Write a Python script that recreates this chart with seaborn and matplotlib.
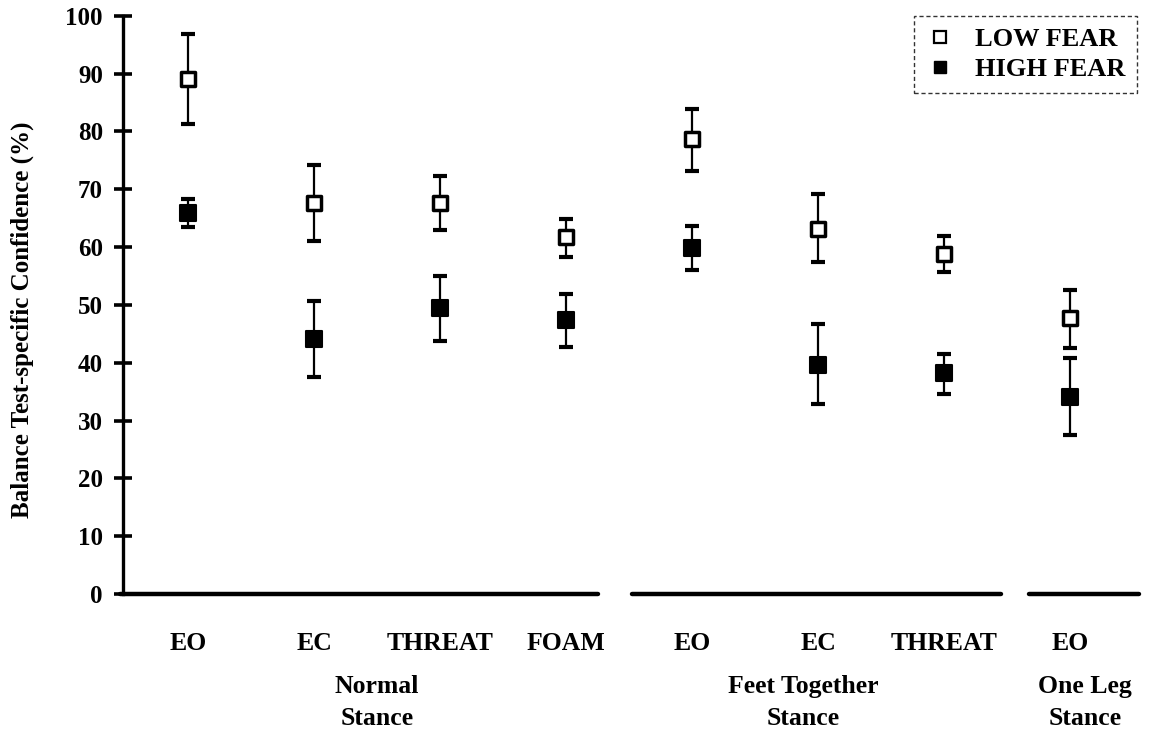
import numpy as np
import pandas as pd
import matplotlib
matplotlib.use("Agg")
import matplotlib.pyplot as plt
import seaborn as sns
from matplotlib.lines import Line2D

# Values
conditions = ["EO", "EC", "THREAT", "FOAM", "EO", "EC", "THREAT", "EO"]
stances = ["Normal\nStance", "Feet Together\nStance", "One Leg\nStance"]

low_mean = [89.1, 67.6, 67.6, 61.8, 78.7, 63.1, 58.8, 47.7]
low_upper = [96.8, 74.2, 72.3, 64.9, 83.9, 69.1, 61.9, 52.6]
low_lower = [81.3, 61.0, 63.0, 58.3, 73.2, 57.4, 55.7, 42.6]

high_mean = [65.9, 44.1, 49.5, 47.4, 59.9, 39.6, 38.2, 34.1]
high_upper = [68.3, 50.7, 55.0, 51.9, 63.7, 46.7, 41.5, 40.8]
high_lower = [63.5, 37.5, 43.8, 42.7, 56.1, 32.9, 34.6, 27.5]

yticks = [0, 10, 20, 30, 40, 50, 60, 70, 80, 90, 100]

sns.set_style("white")
plt.rcParams["font.family"] = ["Liberation Serif", "DejaVu Serif"]
plt.rcParams["font.weight"] = "bold"
plt.rcParams["text.color"] = "black"
plt.rcParams["xtick.color"] = "black"
plt.rcParams["ytick.color"] = "black"

pos = np.arange(len(conditions))
df = pd.DataFrame({
    "pos": np.concatenate([pos, pos]),
    "value": low_mean + high_mean,
    "group": ["LOW FEAR"] * len(pos) + ["HIGH FEAR"] * len(pos),
})

fig = plt.figure(figsize=(11.49, 7.35), dpi=100)
ax = fig.add_axes([123 / 1149, 1 - 594 / 735, (1142 - 123) / 1149, (594 - 15.7) / 735])

# error bars
for mean, up, lo in [(low_mean, low_upper, low_lower), (high_mean, high_upper, high_lower)]:
    mean = np.array(mean)
    err = [mean - np.array(lo), np.array(up) - mean]
    ax.errorbar(pos, mean, yerr=err, fmt="none", ecolor="black", elinewidth=1.6,
                capsize=5, capthick=3, clip_on=False, zorder=2)

sns.scatterplot(data=df[df.group == "HIGH FEAR"], x="pos", y="value", ax=ax,
                marker="s", s=130, color="black", edgecolor="black", linewidth=1.5,
                legend=False, zorder=3, clip_on=False)
sns.scatterplot(data=df[df.group == "LOW FEAR"], x="pos", y="value", ax=ax,
                marker="s", s=110, color="white", edgecolor="black", linewidth=2.5,
                legend=False, zorder=3, clip_on=False)

ax.set_xlim(-0.516, 7.57)
ax.set_ylim(0, 100)
ax.set_yticks(yticks)
ax.set_yticklabels([str(t) for t in yticks], fontsize=18, fontweight="bold")
ax.set_xticks(pos)
ax.set_xticklabels(conditions, fontsize=18.5, fontweight="bold")
ax.tick_params(axis="y", left=True, direction="inout", length=13, width=2.6, pad=8,
               colors="black")
ax.tick_params(axis="x", bottom=False, length=0, pad=27, colors="black")
ax.set_xlabel("")
ax.set_ylabel("")

for s in ["top", "right", "bottom"]:
    ax.spines[s].set_visible(False)
ax.spines["left"].set_linewidth(2.4)
ax.spines["left"].set_color("black")

# broken baseline under each stance group
segments = [(-0.54, 3.25), (3.52, 6.45), (6.67, 7.55)]
for x0, x1 in segments:
    ax.plot([x0, x1], [0, 0], color="black", lw=3.2, solid_capstyle="round",
            clip_on=False, zorder=4)

# stance group labels
label_x = [1.5, 4.88, 7.12]
for x, name in zip(label_x, stances):
    ax.text(x, -0.14, name, transform=ax.get_xaxis_transform(), ha="center",
            va="top", fontsize=18.5, fontweight="bold", linespacing=1.5)

fig.text(22 / 1149, 1 - 320 / 735, "Balance Test-specific Confidence (%)",
         rotation=90, ha="center", va="center", fontsize=18, fontweight="bold")

handles = [
    Line2D([], [], marker="s", linestyle="none", markersize=9, markerfacecolor="white",
           markeredgecolor="black", markeredgewidth=1.6),
    Line2D([], [], marker="s", linestyle="none", markersize=9, markerfacecolor="black",
           markeredgecolor="black"),
]
leg = fig.legend(handles, ["LOW FEAR", "HIGH FEAR"], loc="upper right",
                 bbox_to_anchor=(1137 / 1149, 1 - 16 / 735), frameon=True,
                 fancybox=False, prop={"size": 19, "weight": "bold"},
                 handletextpad=0.75, borderpad=0.45, labelspacing=0.25,
                 handlelength=1.1, borderaxespad=0)
leg.get_frame().set_edgecolor("black")
leg.get_frame().set_linewidth(1.0)
leg.get_frame().set_linestyle((0, (3, 2)))

fig.savefig("out.png", dpi=100)
